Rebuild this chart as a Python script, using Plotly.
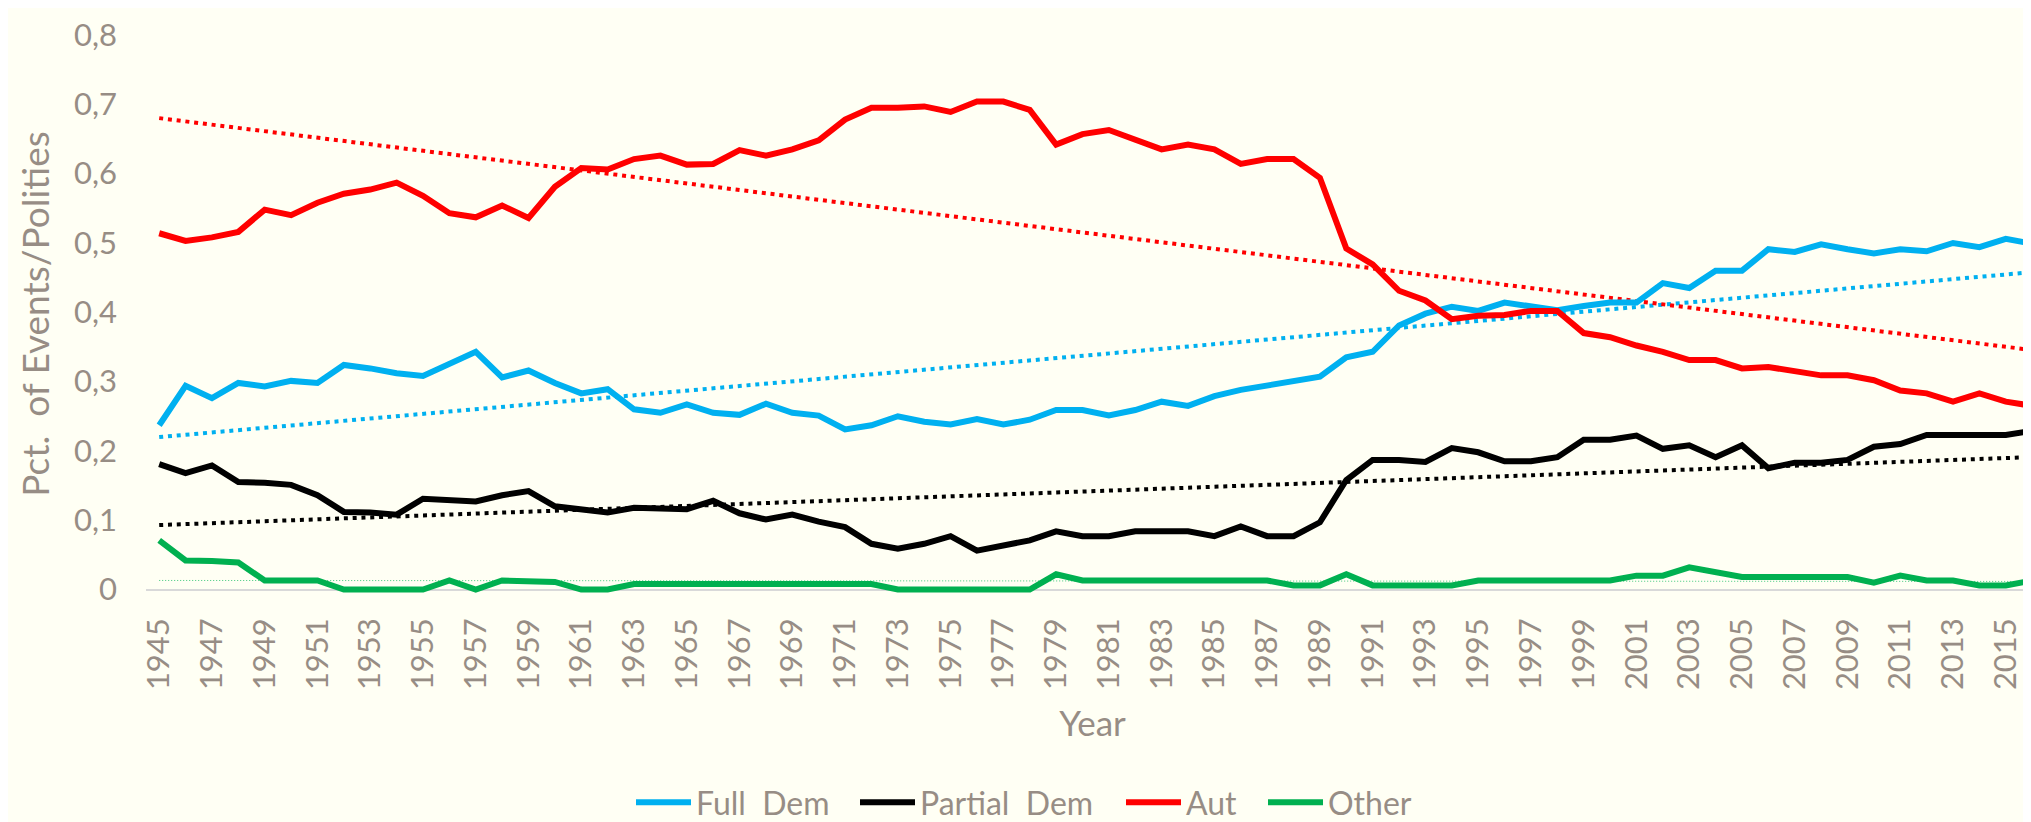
import numpy as np
import plotly.graph_objects as go

years = list(range(1945, 2017))

full_dem = [0.237, 0.294, 0.276, 0.298, 0.293, 0.301, 0.298, 0.324, 0.319, 0.312,
            0.308, 0.325, 0.343, 0.306, 0.316, 0.298, 0.283, 0.289, 0.260, 0.255,
            0.267, 0.255, 0.252, 0.268, 0.255, 0.251, 0.231, 0.237, 0.250, 0.242,
            0.238, 0.246, 0.238, 0.245, 0.259, 0.259, 0.251, 0.259, 0.271, 0.265,
            0.279, 0.288, 0.295, 0.301, 0.307, 0.335, 0.343, 0.381, 0.398, 0.408,
            0.402, 0.414, 0.408, 0.403, 0.409, 0.414, 0.414, 0.442, 0.435, 0.460,
            0.460, 0.491, 0.487, 0.498, 0.491, 0.485, 0.491, 0.488, 0.500, 0.494,
            0.506, 0.499]

partial_dem = [0.181, 0.168, 0.179, 0.155, 0.154, 0.151, 0.136, 0.112, 0.111, 0.108,
               0.131, 0.128, 0.127, 0.136, 0.142, 0.120, 0.116, 0.111, 0.118, 0.117,
               0.116, 0.128, 0.110, 0.101, 0.108, 0.098, 0.090, 0.066, 0.059, 0.066,
               0.077, 0.056, 0.063, 0.071, 0.084, 0.077, 0.077, 0.084, 0.084, 0.084,
               0.077, 0.091, 0.077, 0.077, 0.097, 0.158, 0.187, 0.187, 0.184, 0.204,
               0.198, 0.185, 0.185, 0.191, 0.216, 0.216, 0.222, 0.203, 0.208, 0.191,
               0.208, 0.175, 0.183, 0.183, 0.187, 0.206, 0.210, 0.223, 0.223, 0.223,
               0.223, 0.229]

aut = [0.514, 0.503, 0.508, 0.516, 0.548, 0.540, 0.558, 0.571, 0.577, 0.587,
       0.568, 0.543, 0.537, 0.554, 0.536, 0.581, 0.608, 0.606, 0.621, 0.626,
       0.613, 0.614, 0.634, 0.626, 0.635, 0.648, 0.678, 0.695, 0.695, 0.697,
       0.689, 0.704, 0.704, 0.692, 0.642, 0.657, 0.663, 0.649, 0.635, 0.642,
       0.635, 0.614, 0.621, 0.621, 0.594, 0.492, 0.469, 0.431, 0.417, 0.390,
       0.395, 0.396, 0.402, 0.402, 0.370, 0.364, 0.352, 0.343, 0.331, 0.331,
       0.319, 0.321, 0.316, 0.309, 0.309, 0.302, 0.287, 0.283, 0.271, 0.283,
       0.271, 0.265]

other = [0.071, 0.042, 0.041, 0.039, 0.013, 0.013, 0.013, 0.000, 0.000, 0.000,
         0.000, 0.013, 0.000, 0.013, 0.013, 0.011, 0.000, 0.000, 0.008, 0.008,
         0.008, 0.008, 0.008, 0.008, 0.008, 0.008, 0.008, 0.008, 0.000, 0.000,
         0.000, 0.000, 0.000, 0.000, 0.022, 0.013, 0.013, 0.013, 0.013, 0.013,
         0.013, 0.013, 0.013, 0.006, 0.006, 0.022, 0.006, 0.006, 0.006, 0.006,
         0.013, 0.013, 0.013, 0.013, 0.013, 0.013, 0.020, 0.020, 0.032, 0.025,
         0.018, 0.018, 0.018, 0.018, 0.018, 0.010, 0.020, 0.013, 0.013, 0.006,
         0.006, 0.013]

series_names = ["Full  Dem", "Partial  Dem", "Aut", "Other"]
series_values = [full_dem, partial_dem, aut, other]
series_colors = ["#00B0F0", "#000000", "#FF0000", "#00B050"]

y_ticks = [0, 0.1, 0.2, 0.3, 0.4, 0.5, 0.6, 0.7, 0.8]
y_tick_labels = ["0", "0,1", "0,2", "0,3", "0,4", "0,5", "0,6", "0,7", "0,8"]
x_ticks = list(range(1945, 2017, 2))

TEXT = "#978D85"
FONT = "Lato, 'Open Sans', sans-serif"
BG = "#FFFFF4"

W, H = 2031, 822
ml, mr, mt = 138, 0, 27
y0_px = 589.0
px_per_unit = 702.5
ymin = -0.005
bottom_px = y0_px + (-ymin) * px_per_unit
mb = H - bottom_px
plot_w = W - ml - mr
plot_h = H - mt - mb
year_px = 26.38
xmax = 1944.5 + plot_w / year_px

fig = go.Figure()

# linear trend lines (least-squares fit of each series, like the source chart's trendlines)
x_arr = np.array(years, dtype=float)
for name, vals, col in zip(series_names, series_values, series_colors):
    a, b = np.polyfit(x_arr, np.array(vals), 1)
    trend = a * x_arr + b
    is_other = name == "Other"
    fig.add_trace(go.Scatter(
        x=years, y=trend, mode="lines", showlegend=False, hoverinfo="skip",
        line=dict(color="#3CC77A" if is_other else col,
                  width=1 if is_other else 4,
                  dash="1px,2px" if is_other else "4px,4.8px"),
    ))

legend_ids = ["legend", "legend2", "legend3", "legend4"]
for name, vals, col, lg in zip(series_names, series_values, series_colors, legend_ids):
    fig.add_trace(go.Scatter(
        x=years, y=vals, mode="lines", name=name, legend=lg,
        line=dict(color=col, width=6),
    ))

# each legend entry placed where the reference draws it (text start in px)
legend_text_px = [696, 920, 1186, 1328]
ITEM_W = 55
leg_y = -(805 - bottom_px) / plot_h
legend_layouts = {}
for lg, tx in zip(legend_ids, legend_text_px):
    origin = tx - (ITEM_W + 10) - 8
    legend_layouts[lg] = dict(
        orientation="h", x=(origin - ml) / plot_w, xanchor="left",
        y=leg_y, yanchor="middle", itemwidth=ITEM_W,
        font=dict(size=32, color=TEXT, family=FONT),
        bgcolor="rgba(0,0,0,0)", borderwidth=0,
    )

fig.update_layout(
    width=W, height=H,
    margin=dict(l=ml, r=mr, t=mt, b=mb, pad=0),
    paper_bgcolor=BG, plot_bgcolor=BG,
    font=dict(family=FONT, color=TEXT, size=31),
    showlegend=True,
    xaxis=dict(
        range=[1944.5, xmax],
        tickmode="array", tickvals=x_ticks, ticktext=[str(v) for v in x_ticks],
        tickangle=-90, tickfont=dict(size=31, color=TEXT, family=FONT),
        showgrid=False, zeroline=False, showline=False, ticks="",
        ticklabelstandoff=18,
        title=dict(text="Year", font=dict(size=35, color=TEXT, family=FONT), standoff=22),
        automargin=False,
    ),
    yaxis=dict(
        range=[ymin, 0.8],
        tickmode="array", tickvals=y_ticks, ticktext=y_tick_labels,
        tickfont=dict(size=31, color=TEXT, family=FONT),
        showgrid=False, showline=False, ticks="",
        zeroline=True, zerolinecolor="#D9D9D9", zerolinewidth=2,
        ticklabelstandoff=28,
        title=dict(text="Pct.  of Events/Polities", font=dict(size=37, color=TEXT, family=FONT), standoff=13),
        automargin=False,
    ),
    **legend_layouts,
)

fig.write_html("out.html")
